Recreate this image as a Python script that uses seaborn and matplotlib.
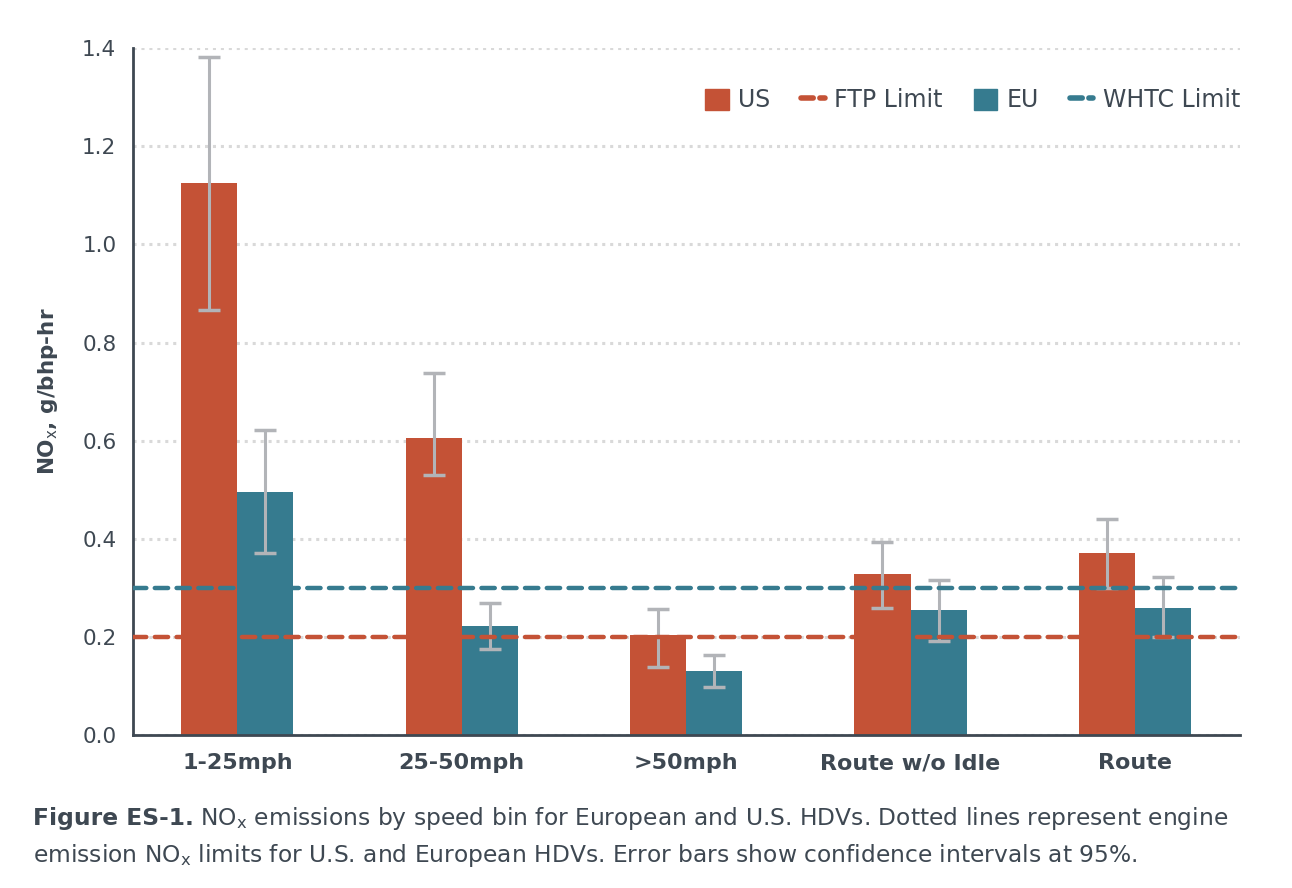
import matplotlib
matplotlib.use("Agg")
import matplotlib.pyplot as plt
from matplotlib.patches import Patch
from matplotlib.lines import Line2D
import seaborn as sns
import pandas as pd
import numpy as np

# --- data ---
speed_bins = ['1-25mph', '25-50mph', '>50mph', 'Route w/o Idle', 'Route']
us_nox = [1.125, 0.605, 0.204, 0.328, 0.372]
us_low = [0.866, 0.530, 0.139, 0.259, 0.300]
us_high = [1.382, 0.738, 0.257, 0.394, 0.440]
eu_nox = [0.495, 0.222, 0.130, 0.255, 0.259]
eu_low = [0.371, 0.175, 0.098, 0.192, 0.200]
eu_high = [0.622, 0.269, 0.163, 0.316, 0.323]
ftp_limit = 0.2
whtc_limit = 0.3

US_COLOR = '#C45236'
EU_COLOR = '#367B8F'
ERR_COLOR = '#B2B4B8'
TEXT_COLOR = '#3E4852'

sns.set_theme(style='white')
plt.rcParams['font.family'] = ['DejaVu Sans']
plt.rcParams['mathtext.fontset'] = 'dejavusans'

df = pd.DataFrame({
    'speed_bin': speed_bins * 2,
    'nox': us_nox + eu_nox,
    'region': ['US'] * len(speed_bins) + ['EU'] * len(speed_bins),
})

fig = plt.figure(figsize=(12.92, 8.88), dpi=100)
ax = fig.add_axes([0.103, 0.172, 0.857, 0.774])

sns.barplot(data=df, x='speed_bin', y='nox', hue='region',
            palette={'US': US_COLOR, 'EU': EU_COLOR}, width=0.5,
            errorbar=None, saturation=1, legend=False, linewidth=0,
            ax=ax, zorder=2)

# error bars on top of the bars
for cont, lo, hi, vals in zip(ax.containers, [us_low, eu_low], [us_high, eu_high], [us_nox, eu_nox]):
    xs = [b.get_x() + b.get_width() / 2 for b in cont]
    v = np.array(vals)
    yerr = [v - np.array(lo), np.array(hi) - v]
    ax.errorbar(xs, v, yerr=yerr, fmt='none', ecolor=ERR_COLOR,
                elinewidth=2.2, capsize=8, capthick=2.5, zorder=3)

# limit lines
ax.axhline(ftp_limit, color=US_COLOR, lw=3.2, ls=(0, (3, 1.9)),
           dash_capstyle='round', zorder=4)
ax.axhline(whtc_limit, color=EU_COLOR, lw=3.2, ls=(0, (3, 1.9)),
           dash_capstyle='round', zorder=4)

ax.set_ylim(0, 1.4)
ax.set_xlim(-0.465, 4.47)
ax.set_yticks(np.arange(0, 1.41, 0.2))
ax.set_yticklabels([f'{t:.1f}' for t in np.arange(0, 1.41, 0.2)])
ax.yaxis.grid(True, color='#D9D9D9', ls=(0, (1, 1.6)), lw=2.2, zorder=0)
ax.set_axisbelow(True)

for s in ['top', 'right']:
    ax.spines[s].set_visible(False)
for s in ['left', 'bottom']:
    ax.spines[s].set_color(TEXT_COLOR)
    ax.spines[s].set_linewidth(2)

ax.tick_params(axis='y', length=0, pad=12, labelsize=15.5, labelcolor=TEXT_COLOR)
ax.tick_params(axis='x', length=0, pad=13, labelsize=16, labelcolor=TEXT_COLOR)
for lab in ax.get_xticklabels():
    lab.set_fontweight('bold')

ax.set_xlabel('')
ax.set_ylabel(r'NO$_\mathrm{x}$, g/bhp-hr', fontsize=15.5, fontweight='bold',
              color=TEXT_COLOR, labelpad=16)

handles = [
    Patch(color=US_COLOR),
    Line2D([], [], color=US_COLOR, lw=4, ls=(0, (2.2, 1.2)), dash_capstyle='round'),
    Patch(color=EU_COLOR),
    Line2D([], [], color=EU_COLOR, lw=4, ls=(0, (2.2, 1.2)), dash_capstyle='round'),
]
labels = ['US', 'FTP Limit', 'EU', 'WHTC Limit']
leg = ax.legend(handles, labels, loc='upper right', ncol=4, frameon=False,
                fontsize=17, bbox_to_anchor=(1.019, 0.972), handlelength=1.0,
                handleheight=1.0, handletextpad=0.4, columnspacing=1.3)
for t in leg.get_texts():
    t.set_color(TEXT_COLOR)

# caption: bold label followed by regular text
fig.canvas.draw()
renderer = fig.canvas.get_renderer()
cap_bold = fig.text(33 / 1292, 1 - 818 / 888, 'Figure ES-1.', fontsize=16.8,
                    fontweight='bold', color=TEXT_COLOR, va='center')
bb = cap_bold.get_window_extent(renderer=renderer)
fig.text((bb.x1 + 6) / 1292, 1 - 818 / 888,
         r'NO$_\mathrm{x}$ emissions by speed bin for European and U.S. HDVs. Dotted lines represent engine',
         fontsize=16.8, color=TEXT_COLOR, va='center')
fig.text(33 / 1292, 1 - 855 / 888,
         r'emission NO$_\mathrm{x}$ limits for U.S. and European HDVs. Error bars show confidence intervals at 95%.',
         fontsize=16.8, color=TEXT_COLOR, va='center')

fig.savefig('out.png', dpi=100)
